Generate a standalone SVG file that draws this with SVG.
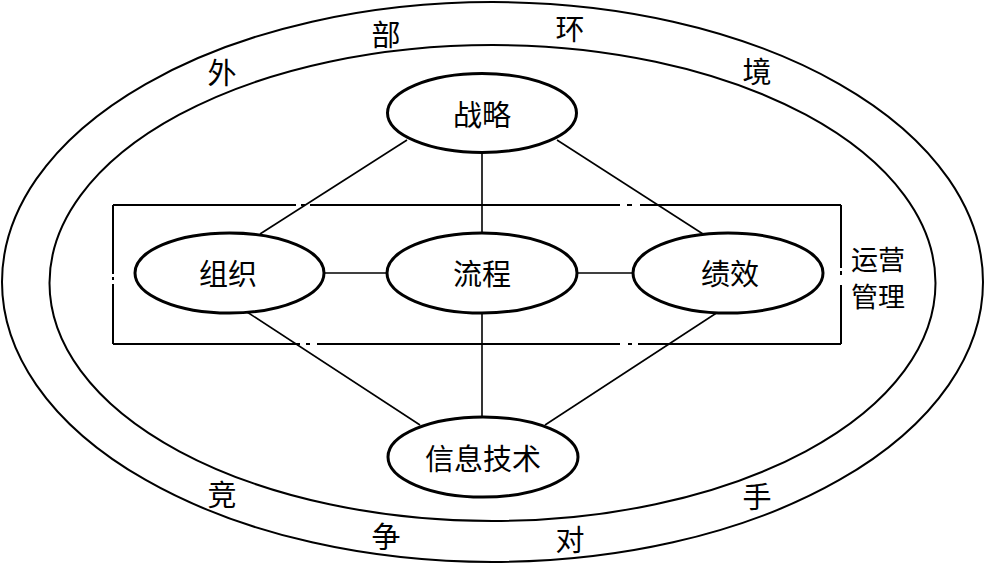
<svg xmlns="http://www.w3.org/2000/svg" width="985" height="565" viewBox="0 0 985 565">
<style>
.ring{fill:none;stroke:#000;stroke-width:2}
.node{fill:#fff;stroke:#000;stroke-width:3}
.ln{fill:none;stroke:#000;stroke-width:1.6}
.box{fill:none;stroke:#000;stroke-width:2}
text{font-family:"Noto Sans CJK SC","Noto Sans",sans-serif;font-size:29px;fill:#000;text-anchor:middle;dominant-baseline:central}
.side{font-size:27px}
</style>
<rect width="985" height="565" fill="#fff"/>
<g id="outer-ring">
<ellipse class="ring" cx="492.5" cy="282" rx="490.5" ry="280"/>
<ellipse class="ring" cx="492.5" cy="283" rx="443" ry="238"/>
<text x="222" y="71">外</text>
<text x="386" y="33">部</text>
<text x="570" y="27">环</text>
<text x="757" y="70">境</text>
<text x="222" y="493">竞</text>
<text x="386" y="535">争</text>
<text x="570" y="538">对</text>
<text x="757" y="495">手</text>
</g>
<g id="operations-box">
<path class="box" d="M113,205H296M301,205H305M310,205H620M627,205H632M640,205H841 M113,344H300M306,344H310M317,344H620M628,344H632M638,344H841 M113,205V274M113,277V280M113,284V344 M841,205V268M841,271V275M841,285V344"/>
<text class="side" x="878" y="258">运营</text>
<text class="side" x="878" y="295">管理</text>
</g>
<g id="connectors">
<line class="ln" x1="407" y1="140" x2="260" y2="234"/>
<line class="ln" x1="482" y1="153" x2="482" y2="233"/>
<line class="ln" x1="557" y1="140" x2="703" y2="234"/>
<line class="ln" x1="324" y1="273" x2="387" y2="273"/>
<line class="ln" x1="577" y1="273" x2="633" y2="273"/>
<line class="ln" x1="247" y1="312" x2="420" y2="425"/>
<line class="ln" x1="482" y1="313" x2="482" y2="417"/>
<line class="ln" x1="718" y1="312" x2="545" y2="425"/>
</g>
<g id="node-strategy">
<ellipse class="node" cx="482" cy="113" rx="94.5" ry="39.5"/>
<text x="482" y="113">战略</text>
</g>
<g id="node-organization">
<ellipse class="node" cx="229.5" cy="273" rx="94.5" ry="40"/>
<text x="228" y="272">组织</text>
</g>
<g id="node-process">
<ellipse class="node" cx="482" cy="273" rx="95" ry="40"/>
<text x="482" y="272">流程</text>
</g>
<g id="node-performance">
<ellipse class="node" cx="728" cy="273" rx="95" ry="40"/>
<text x="730" y="272">绩效</text>
</g>
<g id="node-it">
<ellipse class="node" cx="483" cy="457" rx="95" ry="40"/>
<text x="483" y="457">信息技术</text>
</g>
</svg>
